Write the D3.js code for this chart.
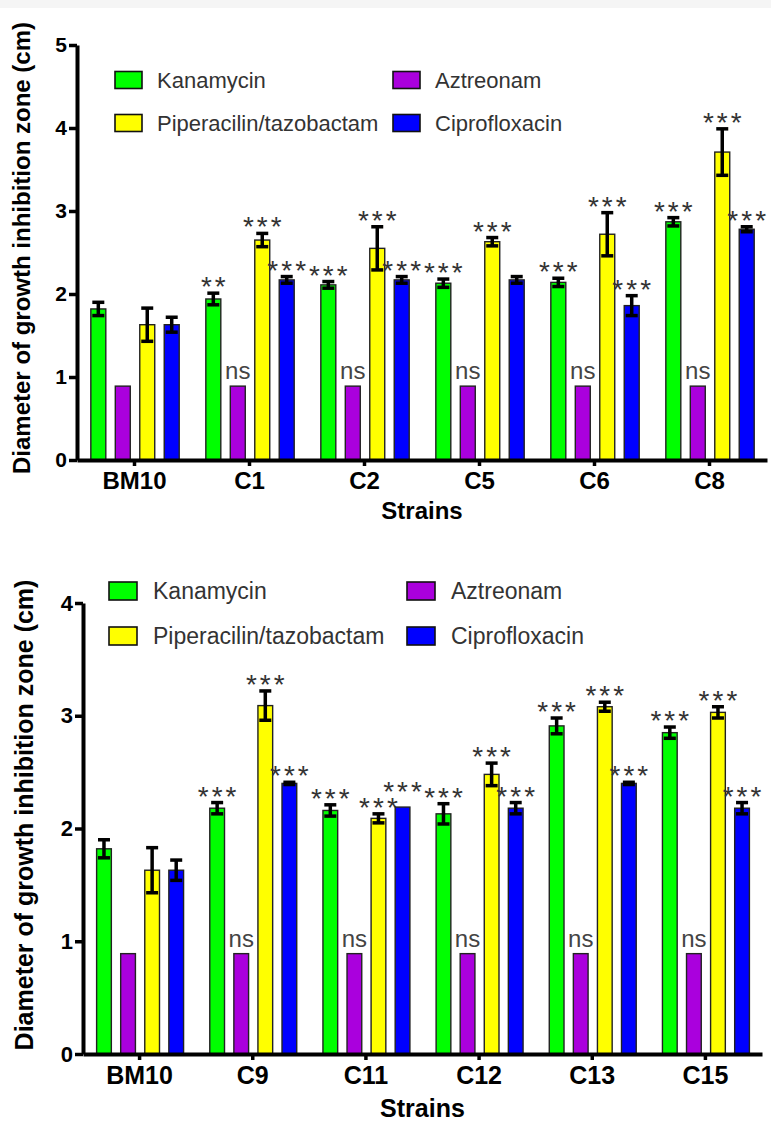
<!DOCTYPE html>
<html>
<head>
<meta charset="utf-8">
<script src="https://cdn.jsdelivr.net/npm/d3@7"></script>
<style>
  html, body { margin: 0; padding: 0; background: #fff; }
  svg { display: block; font-family: "Liberation Sans", Arial, sans-serif; }
</style>
</head>
<body>
<svg id="chart" width="771" height="1122"></svg>
<script>
// ---------- DATA ----------
const antibiotics = ["Kanamycin", "Aztreonam", "Piperacilin/tazobactam", "Ciprofloxacin"];
const colors = ["#00ff00", "#aa00dd", "#ffff00", "#0000ff"];

// Panel A
const strainsA = ["BM10", "C1", "C2", "C5", "C6", "C8"];
const kanA     = [1.82, 1.94, 2.11, 2.13, 2.14, 2.87];
const kanAErr  = [0.08, 0.07, 0.04, 0.05, 0.05, 0.05];
const aztA     = [0.89, 0.89, 0.89, 0.89, 0.89, 0.89];
const aztAErr  = [0, 0, 0, 0, 0, 0];
const pipA     = [1.63, 2.65, 2.55, 2.63, 2.72, 3.71];
const pipAErr  = [0.20, 0.08, 0.26, 0.05, 0.26, 0.28];
const ciproA   = [1.63, 2.17, 2.17, 2.17, 1.86, 2.78];
const ciproAErr= [0.09, 0.04, 0.04, 0.04, 0.12, 0.03];
const kanASig   = ["", "**", "***", "***", "***", "***"];
const aztASig   = ["", "ns", "ns", "ns", "ns", "ns"];
const pipASig   = ["", "***", "***", "***", "***", "***"];
const ciproASig = ["", "***", "***", "", "***", "***"];
const yTicksA = [0, 1, 2, 3, 4, 5];

// Panel B
const strainsB = ["BM10", "C9", "C11", "C12", "C13", "C15"];
const kanB     = [1.82, 2.18, 2.16, 2.13, 2.91, 2.85];
const kanBErr  = [0.08, 0.05, 0.05, 0.09, 0.07, 0.05];
const aztB     = [0.89, 0.89, 0.89, 0.89, 0.89, 0.89];
const aztBErr  = [0, 0, 0, 0, 0, 0];
const pipB     = [1.63, 3.09, 2.09, 2.48, 3.08, 3.03];
const pipBErr  = [0.20, 0.13, 0.04, 0.10, 0.04, 0.05];
const ciproB   = [1.63, 2.40, 2.19, 2.18, 2.40, 2.18];
const ciproBErr= [0.09, 0.01, 0, 0.05, 0.01, 0.05];
const kanBSig   = ["", "***", "***", "***", "***", "***"];
const aztBSig   = ["", "ns", "ns", "ns", "ns", "ns"];
const pipBSig   = ["", "***", "***", "***", "***", "***"];
const ciproBSig = ["", "***", "***", "***", "***", "***"];
const yTicksB = [0, 1, 2, 3, 4];

const yTitle = "Diameter of growth inhibition zone (cm)";
const xTitle = "Strains";

// ---------- DRAW ----------
const svg = d3.select("#chart");
svg.append("rect").attr("x", 0).attr("y", 0).attr("width", 771).attr("height", 8).attr("fill", "#f5f5f5");

function panel(cfg) {
  const g = svg.append("g");
  const y = d3.scaleLinear().domain([0, cfg.yMax]).range([cfg.y0, cfg.yTop]);
  const x = d3.scaleBand().domain(cfg.strains).range([cfg.xL, cfg.xR]).padding(0);
  const bw = x.bandwidth();
  const x1 = d3.scaleBand().domain(antibiotics)
      .range([bw * 0.079, bw * 0.93]).paddingInner(0.388).paddingOuter(0.194);

  const series = antibiotics.map((name, i) => ({
    name, color: colors[i], vals: cfg.vals[i], errs: cfg.errs[i], sigs: cfg.sigs[i]
  }));

  // bars
  series.forEach(s => {
    const gg = g.append("g");
    cfg.strains.forEach((st, j) => {
      const bx = x(st) + x1(s.name);
      const v = s.vals[j];
      gg.append("rect")
        .attr("x", bx).attr("y", y(v))
        .attr("width", x1.bandwidth()).attr("height", y(0) - y(v))
        .attr("fill", s.color).attr("stroke", "#222").attr("stroke-width", 1.4);
      const e = s.errs[j];
      const cx = bx + x1.bandwidth() / 2;
      if (e > 0) {
        gg.append("line").attr("x1", cx).attr("x2", cx)
          .attr("y1", y(v - e)).attr("y2", y(v + e))
          .attr("stroke", "#000").attr("stroke-width", 3.5);
        [v - e, v + e].forEach(t => {
          gg.append("line").attr("x1", cx - 6).attr("x2", cx + 6)
            .attr("y1", y(t)).attr("y2", y(t))
            .attr("stroke", "#000").attr("stroke-width", 3.5);
        });
      }
      const sig = s.sigs[j];
      if (sig === "ns") {
        gg.append("text").attr("x", cx).attr("y", y(v) - 7)
          .attr("text-anchor", "middle").attr("font-size", cfg.nsSize)
          .attr("fill", "#444").text(sig);
      } else if (sig) {
        const extra = e > 0 ? 0 : -9;
        gg.append("text").attr("x", cx + 1.5).attr("y", y(v + e) + cfg.starShift + extra)
          .attr("text-anchor", "middle").attr("font-size", cfg.starSize)
          .attr("letter-spacing", 3).attr("fill", "#333").text(sig);
      }
    });
  });

  // axes
  const ya = g.append("g").attr("transform", `translate(${cfg.xL},0)`)
    .call(d3.axisLeft(y).tickValues(cfg.yTicks).tickFormat(d3.format("d")).tickSize(8).tickSizeOuter(0).tickPadding(2));
  ya.select(".domain").attr("stroke", "#000").attr("stroke-width", cfg.axisW);
  ya.selectAll(".tick line").attr("stroke", "#000").attr("stroke-width", cfg.axisW - 0.5);
  ya.selectAll(".tick text").attr("font-size", cfg.tickSize).attr("font-weight", "bold")
    .attr("fill", "#000").attr("font-family", "Liberation Sans, Arial, sans-serif");

  const xa = g.append("g").attr("transform", `translate(0,${cfg.y0})`)
    .call(d3.axisBottom(x).tickSize(6).tickSizeOuter(0).tickPadding(6));
  xa.select(".domain").attr("stroke", "#000").attr("stroke-width", cfg.axisW);
  xa.selectAll(".tick line").attr("stroke", "#000").attr("stroke-width", cfg.axisW - 0.5);
  xa.selectAll(".tick text").attr("font-size", cfg.xLabSize).attr("font-weight", "bold")
    .attr("fill", "#000").attr("font-family", "Liberation Sans, Arial, sans-serif");

  // titles
  g.append("text").attr("x", (cfg.xL + cfg.xR) / 2).attr("y", cfg.xTitleY)
    .attr("text-anchor", "middle").attr("font-size", cfg.xLabSize).attr("font-weight", "bold")
    .text(xTitle);
  g.append("text").attr("transform", `translate(${cfg.yTitleX},${cfg.yTitleY}) rotate(-90)`)
    .attr("text-anchor", "middle").attr("font-size", cfg.yTitleSize).attr("font-weight", "bold")
    .text(yTitle);

  // legend
  const order = [[0, 0], [1, 0], [0, 1], [1, 1]]; // [col,row] per antibiotic
  antibiotics.forEach((name, i) => {
    const [c, r] = order[i];
    const lx = cfg.legX[c], ly = cfg.legY[r];
    g.append("rect").attr("x", lx).attr("y", ly - cfg.boxH / 2)
      .attr("width", cfg.boxW).attr("height", cfg.boxH)
      .attr("fill", colors[i]).attr("stroke", "#111").attr("stroke-width", 1.6);
    g.append("text").attr("x", lx + cfg.boxW + cfg.legGap).attr("y", ly)
      .attr("dy", "0.35em").attr("font-size", cfg.legSize).attr("fill", "#333")
      .text(name);
  });
}

panel({
  strains: strainsA, yMax: 5, yTicks: yTicksA,
  vals: [kanA, aztA, pipA, ciproA], errs: [kanAErr, aztAErr, pipAErr, ciproAErr],
  sigs: [kanASig, aztASig, pipASig, ciproASig],
  y0: 460, yTop: 45, xL: 77, xR: 767,
  axisW: 4, tickSize: 21, xLabSize: 24, xTitleY: 519,
  yTitleX: 30, yTitleY: 248, yTitleSize: 24,
  starSize: 28, starShift: 3, nsSize: 24,
  legX: [115, 393], legY: [80, 123], boxW: 27, boxH: 17, legGap: 15, legSize: 22
});

panel({
  strains: strainsB, yMax: 4, yTicks: yTicksB,
  vals: [kanB, aztB, pipB, ciproB], errs: [kanBErr, aztBErr, pipBErr, ciproBErr],
  sigs: [kanBSig, aztBSig, pipBSig, ciproBSig],
  y0: 1054, yTop: 603, xL: 83, xR: 762,
  axisW: 4, tickSize: 22, xLabSize: 25, xTitleY: 1117,
  yTitleX: 33, yTitleY: 815, yTitleSize: 25,
  starSize: 28, starShift: 3, nsSize: 24,
  legX: [109, 407], legY: [591, 636], boxW: 28, boxH: 18, legGap: 16, legSize: 23
});
</script>
</body>
</html>
